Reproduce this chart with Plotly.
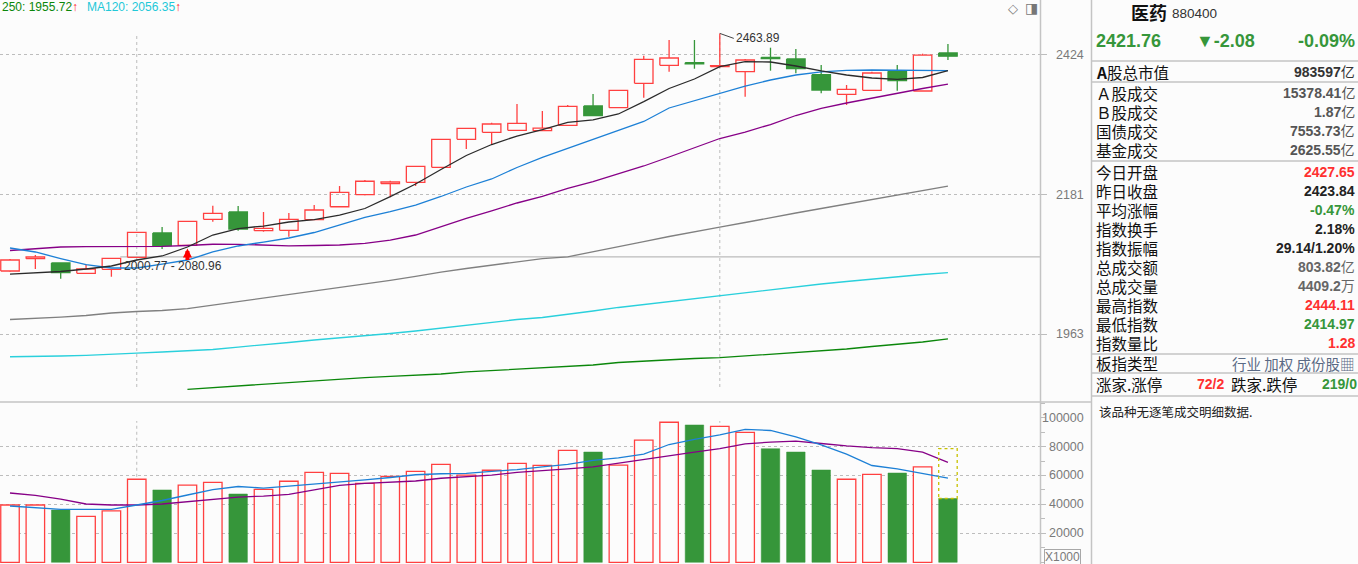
import math
import plotly.graph_objects as go

# ---------------- data ----------------
opens = [2058.8, 2078.0, 2071.3, 2055.2, 2061.4, 2080.2, 2118.8, 2099.2, 2140.9, 2152.7, 2122.5, 2123.1, 2140.2,
         2161.3, 2181.1, 2199.3, 2201.6, 2226.7, 2274.3, 2286.4, 2289.9, 2289.2, 2298.5, 2332.3, 2329.3, 2372.7,
         2405.2, 2409.8, 2402.7, 2393.6, 2419.8, 2416.7, 2388.2, 2353.0, 2360.2, 2394.3, 2358.9, 2427.65]
closes = [2076.0, 2080.7, 2056.2, 2061.9, 2078.7, 2119.9, 2098.6, 2137.6, 2150.6, 2125.2, 2126.3, 2140.9, 2156.0,
          2185.0, 2203.3, 2202.1, 2228.4, 2274.3, 2293.3, 2300.8, 2302.0, 2293.8, 2331.8, 2315.3, 2360.2, 2416.1,
          2418.5, 2407.9, 2404.5, 2414.8, 2417.2, 2399.0, 2360.7, 2361.9, 2391.2, 2377.4, 2423.84, 2421.76]
highs = [2077.6, 2083.8, 2071.3, 2069.2, 2078.7, 2119.9, 2128.4, 2137.6, 2163.0, 2162.5, 2152.7, 2151.1, 2164.1,
         2195.4, 2205.4, 2204.3, 2228.4, 2274.3, 2293.3, 2303.1, 2335.8, 2323.5, 2334.1, 2353.6, 2360.2, 2422.7,
         2451.6, 2451.6, 2463.89, 2416.7, 2437.4, 2435.0, 2405.7, 2369.6, 2393.6, 2405.7, 2426.4, 2444.11]
lows = [2058.0, 2061.9, 2046.8, 2055.2, 2049.9, 2080.2, 2093.3, 2099.2, 2137.0, 2122.5, 2120.9, 2112.9, 2140.2,
        2161.3, 2180.1, 2176.8, 2195.4, 2226.7, 2257.7, 2264.6, 2289.9, 2289.2, 2298.5, 2315.3, 2329.3, 2347.0,
        2393.6, 2399.0, 2401.2, 2348.8, 2395.4, 2390.7, 2354.8, 2334.1, 2360.2, 2359.4, 2358.9, 2414.97]

ma5 = [2054.1, 2055.7, 2058.0, 2061.9, 2066.6, 2076.0, 2082.3, 2096.5, 2115.6, 2126.0, 2130.0, 2136.5, 2140.5,
       2147.8, 2158.4, 2177.8, 2198.8, 2223.0, 2246.7, 2265.4, 2280.0, 2291.2, 2303.8, 2307.8, 2318.3, 2339.9,
       2363.4, 2380.4, 2402.7, 2411.8, 2411.2, 2403.9, 2394.9, 2387.6, 2382.2, 2379.9, 2383.1, 2395.4]
ma10 = [2094.9, 2088.6, 2078.3, 2068.9, 2063.5, 2063.5, 2069.7, 2076.0, 2088.6, 2098.1, 2104.4, 2110.8, 2119.6,
        2131.7, 2143.8, 2153.2, 2164.1, 2178.1, 2193.8, 2207.1, 2226.4, 2243.3, 2258.6, 2274.8, 2289.5, 2305.2,
        2328.8, 2342.0, 2354.8, 2367.8, 2378.6, 2387.6, 2393.1, 2395.8, 2396.7, 2396.7, 2396.1, 2395.4]
ma20 = [2091.0, 2094.1, 2096.5, 2097.0, 2097.0, 2097.0, 2097.6, 2098.9, 2100.9, 2100.8, 2099.7, 2098.4, 2098.9,
        2099.7, 2102.1, 2107.6, 2115.6, 2129.2, 2142.5, 2154.7, 2167.4, 2178.1, 2191.6, 2202.9, 2215.4, 2228.9,
        2244.1, 2259.4, 2275.7, 2286.9, 2299.9, 2315.6, 2328.3, 2337.6, 2346.5, 2354.5, 2363.4, 2371.4]
ma60 = [1984.7, 1986.2, 1988.4, 1990.7, 1994.5, 1996.7, 1998.2, 2001.2, 2006.5, 2011.1, 2016.4, 2021.8, 2027.9,
        2033.3, 2038.7, 2044.1, 2050.3, 2057.2, 2062.7, 2068.2, 2072.9, 2078.3, 2081.0, 2089.4, 2097.3, 2105.2,
        2113.2, 2121.2, 2128.4, 2135.7, 2143.8, 2151.1, 2158.4, 2165.8, 2173.2, 2180.6, 2188.0, 2195.4]
ma120 = [1929.6, 1929.9, 1930.7, 1931.7, 1932.8, 1935.0, 1936.5, 1938.0, 1940.2, 1943.8, 1946.8, 1950.5, 1954.2,
         1957.1, 1960.1, 1963.8, 1967.5, 1972.0, 1976.4, 1980.9, 1984.7, 1987.7, 1992.2, 1997.5, 2002.8, 2007.3,
         2011.9, 2016.4, 2021.0, 2025.6, 2029.4, 2034.0, 2038.7, 2042.5, 2046.4, 2049.5, 2053.4, 2056.35]
ma250 = [None, None, None, None, None, None, None, 1882.7, 1885.2, 1887.4, 1890.2, 1892.7, 1894.5, 1897.4,
         1899.5, 1901.3, 1903.1, 1904.6, 1907.5, 1909.6, 1911.3, 1913.2, 1915.4, 1917.6, 1921.2, 1923.4, 1924.8,
         1927.0, 1928.2, 1930.7, 1932.8, 1935.0, 1938.0, 1940.9, 1944.6, 1947.5, 1951.2, 1955.72]

volumes = [39600, 39600, 36100, 31800, 35500, 57400, 50000, 53400, 55300, 47200, 50400, 56000, 62200, 61500,
           54600, 59400, 62900, 67700, 60300, 63600, 68400, 67000, 77400, 76200, 67200, 84500, 96800, 94900,
           94000, 89800, 78500, 76200, 63800, 57400, 60800, 61700, 65900, 44092]
vol_ma5 = [38900, 37900, 36600, 36600, 36600, 39600, 42700, 46500, 50300, 52400, 51300, 52700, 54100, 55100,
           56900, 58600, 60500, 61200, 61400, 62900, 64100, 65900, 67600, 70500, 72100, 74800, 81400, 84900,
           88000, 91800, 91100, 86600, 81100, 74800, 66900, 64500, 61500, 58100]
vol_ma10 = [47900, 46200, 43700, 40300, 39600, 39600, 40300, 42000, 43700, 45100, 45800, 46900, 50000, 53100,
            54500, 55300, 56200, 58100, 59300, 60300, 62100, 63100, 64500, 65900, 68600, 71000, 73500, 76200,
            78600, 81800, 83100, 83800, 82100, 80400, 79300, 78600, 76200, 69100]
proj_volume = 78500          # projected full-day volume (dotted box on last bar)

price_ticks = [1963, 2181, 2424]
vol_ticks = [20000, 40000, 60000, 80000, 100000]
peak_label = 2463.89
range_low, range_high = "2000.77", "2080.96"
range_line_value = 2080.96
arrow_price = 2094.0
arrow_index = 7
vline_index = [5, 28]

# ---------------- style ----------------
W, H = 1358, 564
BG = '#FCFCFC'
RED = '#FF4040'
GREEN = '#36963A'
GRID = '#BDBDBD'
SEP = '#C4C4C4'
AXT = '#7A7A7A'
HALF = 0.365


def fx(px):
    return px / W


def fy(py):
    return 1 - py / H


N = len(opens)
idx = list(range(N))
up = [i for i in idx if closes[i] >= opens[i]]
dn = [i for i in idx if closes[i] < opens[i]]

fig = go.Figure()


def body_path(ids):
    xs, ys = [], []
    for i in ids:
        o, c = opens[i], closes[i]
        xs += [i - HALF, i + HALF, i + HALF, i - HALF, i - HALF, None]
        ys += [o, o, c, c, o, None]
    return xs, ys


def wick_path(ids, hollow):
    xs, ys = [], []
    for i in ids:
        top, bot = max(opens[i], closes[i]), min(opens[i], closes[i])
        if hollow:
            if highs[i] > top:
                xs += [i, i, None]; ys += [highs[i], top, None]
            if lows[i] < bot:
                xs += [i, i, None]; ys += [bot, lows[i], None]
        else:
            xs += [i, i, None]; ys += [highs[i], lows[i], None]
    return xs, ys


ma_specs = [(ma250, '#0B870B'), (ma120, '#2AD0DC'), (ma60, '#808080'), (ma20, '#870087'),
            (ma10, '#1D80D6'), (ma5, '#2B2B2B')]

# range line
fig.add_trace(go.Scatter(x=[4.35, 40.63], y=[range_line_value, range_line_value], mode='lines',
                         line=dict(color='#BBBBBB', width=1.3), hoverinfo='skip', xaxis='x', yaxis='y'))

wx, wy = wick_path(up, True)
fig.add_trace(go.Scatter(x=wx, y=wy, mode='lines', line=dict(color=RED, width=1.3), hoverinfo='skip'))
wx, wy = wick_path(dn, False)
fig.add_trace(go.Scatter(x=wx, y=wy, mode='lines', line=dict(color=GREEN, width=1.3), hoverinfo='skip'))
bx, by = body_path(up)
fig.add_trace(go.Scatter(x=bx, y=by, mode='lines', line=dict(color=RED, width=1.3), hoverinfo='skip'))
bx, by = body_path(dn)
fig.add_trace(go.Scatter(x=bx, y=by, mode='lines', fill='toself', fillcolor=GREEN,
                         line=dict(color=GREEN, width=1.3), hoverinfo='skip'))

for arr, col in ma_specs:
    fig.add_trace(go.Scatter(x=idx, y=arr, mode='lines', line=dict(color=col, width=1.3),
                             hoverinfo='skip', connectgaps=False))

# volume
fig.add_trace(go.Bar(x=up, y=[volumes[i] for i in up], width=0.73, marker=dict(color=BG, line=dict(color=RED, width=1.3)),
                     xaxis='x2', yaxis='y2', hoverinfo='skip'))
fig.add_trace(go.Bar(x=dn, y=[volumes[i] for i in dn], width=0.73, marker=dict(color=GREEN, line=dict(color=GREEN, width=0.5)),
                     xaxis='x2', yaxis='y2', hoverinfo='skip'))
fig.add_trace(go.Scatter(x=idx, y=vol_ma10, mode='lines', line=dict(color='#870087', width=1.3),
                         xaxis='x2', yaxis='y2', hoverinfo='skip'))
fig.add_trace(go.Scatter(x=idx, y=vol_ma5, mode='lines', line=dict(color='#1D80D6', width=1.3),
                         xaxis='x2', yaxis='y2', hoverinfo='skip'))

XR = [-10 / 25.35, 1030 / 25.35]
XD = [0, 1040 / W]
fig.update_layout(
    width=W, height=H, margin=dict(l=0, r=0, t=0, b=0),
    paper_bgcolor=BG, plot_bgcolor=BG, showlegend=False, barmode='overlay',
    xaxis=dict(domain=XD, range=XR, showticklabels=False, showgrid=False, zeroline=False, anchor='y', fixedrange=True),
    yaxis=dict(domain=[1 - 401 / H, 1], type='log', range=[math.log10(1866.1), math.log10(2526.9)], side='right',
               anchor='x', tickvals=price_ticks, showticklabels=False, ticks='outside', ticklen=6, tickcolor=GRID,
               showgrid=True, gridcolor=GRID, griddash='dot', gridwidth=1, zeroline=False, showline=False),
    xaxis2=dict(domain=XD, range=XR, showticklabels=False, showgrid=False, zeroline=False, anchor='y2', fixedrange=True),
    yaxis2=dict(domain=[0, 1 - 403 / H], range=[-1175, 110090], side='right', anchor='x2',
                tickvals=vol_ticks[:-1], showticklabels=False, ticks='outside', ticklen=5, tickcolor=GRID,
                showgrid=True, gridcolor=GRID, griddash='dot', gridwidth=1, zeroline=False, showline=False,
                minor=dict(tickmode='linear', tick0=0, dtick=10000, ticks='outside', ticklen=4, tickcolor=GRID, showgrid=False)),
)

shapes = []
for vi in vline_index:
    shapes.append(dict(type='line', xref='x', yref='y domain', x0=vi, x1=vi, y0=14 / 401, y1=368 / 401,
                       line=dict(color=GRID, width=1, dash='dot'), layer='below'))
    shapes.append(dict(type='line', xref='x2', yref='y2 domain', x0=vi, x1=vi, y0=0.02, y1=(564 - 421) / 161,
                       line=dict(color=GRID, width=1, dash='dot'), layer='below'))
li = N - 1
shapes.append(dict(type='rect', xref='x2', yref='y2', x0=li - HALF, x1=li + HALF, y0=volumes[li], y1=proj_volume,
                   line=dict(color='#C8C200', width=1.3, dash='dot'), fillcolor='rgba(0,0,0,0)'))
shapes.append(dict(type='line', xref='paper', yref='paper', x0=fx(1040.5), x1=fx(1040.5), y0=0, y1=1, line=dict(color=SEP, width=1.5)))
shapes.append(dict(type='line', xref='paper', yref='paper', x0=fx(1091.5), x1=fx(1091.5), y0=0, y1=1, line=dict(color=SEP, width=1.5)))
shapes.append(dict(type='line', xref='paper', yref='paper', x0=0, x1=fx(1091.5), y0=fy(402), y1=fy(402), line=dict(color=SEP, width=1.5)))
for yy in [61, 82, 161, 354, 373, 396]:
    shapes.append(dict(type='line', xref='paper', yref='paper', x0=fx(1091.5), x1=1, y0=fy(yy), y1=fy(yy),
                       line=dict(color=SEP, width=1.5)))
fig.update_layout(shapes=shapes)

ann = []


def T(x, y, text, size=12, color='#333', anchor='left', family='Liberation Sans, Noto Sans CJK SC', **kw):
    d = dict(x=fx(x), y=fy(y), xref='paper', yref='paper', text=text, showarrow=False, xanchor=anchor,
             yanchor='middle', font=dict(size=size, color=color, family=family))
    d.update(kw)
    ann.append(d)


for v in price_ticks:
    ann.append(dict(x=fx(1086), y=math.log10(v), xref='paper', yref='y', text=str(v), showarrow=False,
                    xanchor='right', yanchor='middle', font=dict(size=12.5, color=AXT, family='Liberation Sans')))
for v in vol_ticks:
    ann.append(dict(x=fx(1086), y=v, xref='paper', yref='y2', text=str(v), showarrow=False,
                    xanchor='right', yanchor='middle', font=dict(size=12.5, color=AXT, family='Liberation Sans')))
T(1062, 556.5, 'X1000', size=12, color=AXT, anchor='center', bordercolor='#A8A8A8', borderwidth=1, borderpad=0)

T(0, 7, f"250: {ma250[-1]:.2f}<span style='color:#FF2020'>↑</span>", size=12, color='#0B870B')
T(85, 7, f"MA120: {ma120[-1]:.2f}<span style='color:#FF2020'>↑</span>", size=12, color='#22C8D8')
T(1013, 8, '◇', size=13, color='#777', anchor='center', family='DejaVu Sans')
T(1031, 8, '◨', size=14, color='#777', anchor='center', family='DejaVu Sans')

ann.append(dict(x=28, y=math.log10(peak_label), xref='x', yref='y', text=f"{peak_label:.2f}", showarrow=True,
                arrowhead=0, arrowwidth=1, arrowcolor='#444', ax=14, ay=5, xanchor='left', yanchor='middle',
                font=dict(size=12, color='#333', family='Liberation Sans')))
ann.append(dict(x=arrow_index, y=math.log10(arrow_price), xref='x', yref='y', text='', showarrow=True,
                arrowhead=2, arrowsize=0.45, arrowwidth=4, arrowcolor='#FF0000', ax=0, ay=13))
T(122, 266, f"{range_low} - {range_high}", size=12, color='#333')

CJK = 'Noto Sans CJK SC'
NUM = 'Liberation Sans, Noto Sans CJK SC'
T(1129, 12, '<b>医药</b>', size=18, color='#111', family=CJK)
T(1170, 13, '880400', size=13.5, color='#333', family='Liberation Sans')
T(1094, 41.5, f"<b>{closes[-1]:.2f}</b>", size=18, color=GREEN, family='Liberation Sans')
T(1194, 41.5, f"<b>▼{closes[-1]-closes[-2]:.2f}</b>", size=18, color=GREEN, family='Liberation Sans, DejaVu Sans')
T(1357, 41.5, f"<b>{(closes[-1]/closes[-2]-1)*100:.2f}%</b>", size=18, color=GREEN, anchor='right', family='Liberation Sans')

rows = [
    (72, '<b>A</b>股总市值', '<b>983597</b>亿', '#333'),
    (93, 'Ａ股成交', '<b>15378.41</b>亿', '#555'),
    (112, 'Ｂ股成交', '<b>1.87</b>亿', '#555'),
    (131, '国债成交', '<b>7553.73</b>亿', '#555'),
    (150, '基金成交', '<b>2625.55</b>亿', '#555'),
    (172, '今日开盘', f"<b>{opens[-1]:.2f}</b>", '#FF3030'),
    (191, '昨日收盘', f"<b>{closes[-2]:.2f}</b>", '#222'),
    (210, '平均涨幅', '<b>-0.47%</b>', GREEN),
    (229, '指数换手', '<b>2.18%</b>', '#222'),
    (248, '指数振幅', f"<b>{highs[-1]-lows[-1]:.2f}/1.20%</b>", '#222'),
    (267, '总成交额', '<b>803.82</b>亿', '#666'),
    (286, '总成交量', f"<b>{volumes[-1]/10:.1f}</b>万", '#666'),
    (305, '最高指数', f"<b>{highs[-1]:.2f}</b>", '#FF3030'),
    (324, '最低指数', f"<b>{lows[-1]:.2f}</b>", GREEN),
    (343, '指数量比', '<b>1.28</b>', '#FF3030'),
]
for yy, lab, val, col in rows:
    T(1094, yy, lab, size=15.5, color='#111', family=CJK)
    T(1357, yy, val, size=14, color=col, anchor='right', family=NUM)
T(1094, 363, '板指类型', size=15.5, color='#111', family=CJK)
T(1357, 363, '行业 加权 成份股▦', size=14.5, color='#5A6A85', anchor='right', family='Noto Sans CJK SC, DejaVu Sans')
T(1094, 383.5, '涨家.涨停', size=15.5, color='#111', family=CJK)
T(1210, 383.5, '<b>72/2</b>', size=14, color='#FF3030', anchor='center', family=NUM)
T(1229, 383.5, '跌家.跌停', size=15.5, color='#111', family=CJK)
T(1359, 383.5, '<b>219/0</b>', size=14, color=GREEN, anchor='right', family=NUM)
T(1097, 411.5, '该品种无逐笔成交明细数据.', size=12.5, color='#222', family=CJK)

fig.update_layout(annotations=ann)
fig.write_html("out.html", config={'displayModeBar': False, 'staticPlot': True},
               post_script="document.body.style.margin='0';document.body.style.padding='0';"
                           "document.body.style.overflow='hidden';document.body.style.background='#FCFCFC';")
